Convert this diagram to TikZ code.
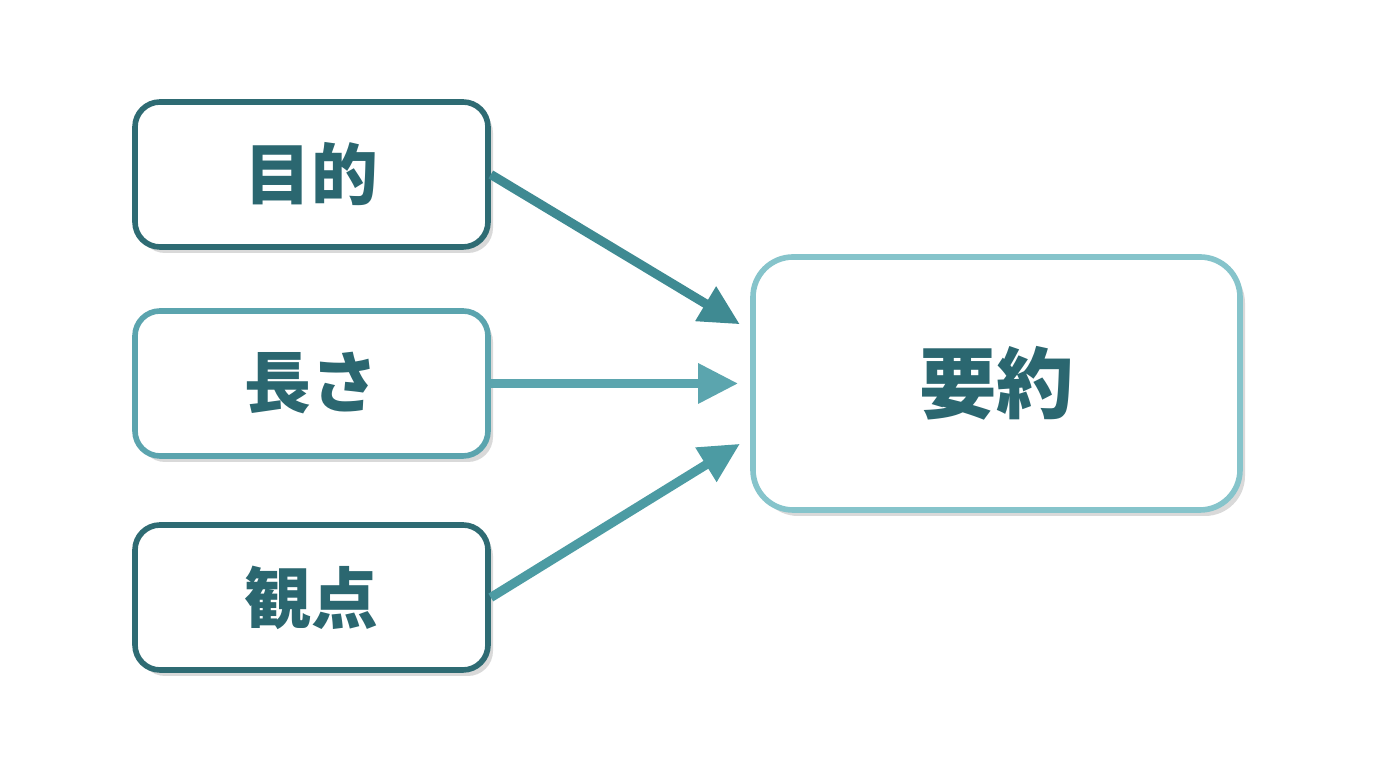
\documentclass[tikz,border=0pt]{standalone}
\usepackage{fontspec}
\newfontfamily\jp{Noto Sans CJK JP}
\usetikzlibrary{arrows.meta,shadows}
\definecolor{tealdark}{HTML}{2E6B73}
\definecolor{tealmid}{HTML}{5BA4AE}
\definecolor{teallight}{HTML}{86C4CB}
\definecolor{tealtext}{HTML}{2B6770}
\definecolor{arrowa}{HTML}{3F8A92}
\definecolor{arrowb}{HTML}{5BA5AE}
\definecolor{arrowc}{HTML}{4C9BA3}
\begin{document}
\begin{tikzpicture}[
  box/.style={line width=1.6pt, fill=white, rounded corners=0.25cm,
    minimum width=3.53cm, minimum height=1.45cm, text=tealtext,
    font=\jp\bfseries\fontsize{19}{19}\selectfont,
    drop shadow={shadow xshift=0.05cm, shadow yshift=-0.06cm, opacity=0.15, fill=black}},
  link/.style={line width=2.6pt, -{Triangle[length=0.4cm, width=0.38cm]}, shorten >=0.12cm}]
\useasboundingbox (0,0) rectangle (13.76,7.68);
\fill[white] (0,0) rectangle (13.76,7.68);

\node[box, draw=tealdark] (goal) at (3.115,5.935) {目的};
\node[box, draw=tealmid] (length) at (3.115,3.845) {長さ};
\node[box, draw=tealdark] (view) at (3.115,1.705) {観点};
\node[box, draw=teallight, minimum width=4.87cm, minimum height=2.53cm, rounded corners=0.4cm,
  font=\jp\bfseries\fontsize{22}{22}\selectfont] (sum) at (9.965,3.845) {要約};

\coordinate (in1) at ([yshift=0.53cm]sum.west);
\coordinate (in2) at (sum.west);
\coordinate (in3) at ([yshift=-0.54cm]sum.west);

\draw[link, arrowa] (goal.east) -- (in1);
\draw[link, arrowb] (length.east) -- (in2);
\draw[link, arrowc] (view.east) -- (in3);
\end{tikzpicture}
\end{document}
